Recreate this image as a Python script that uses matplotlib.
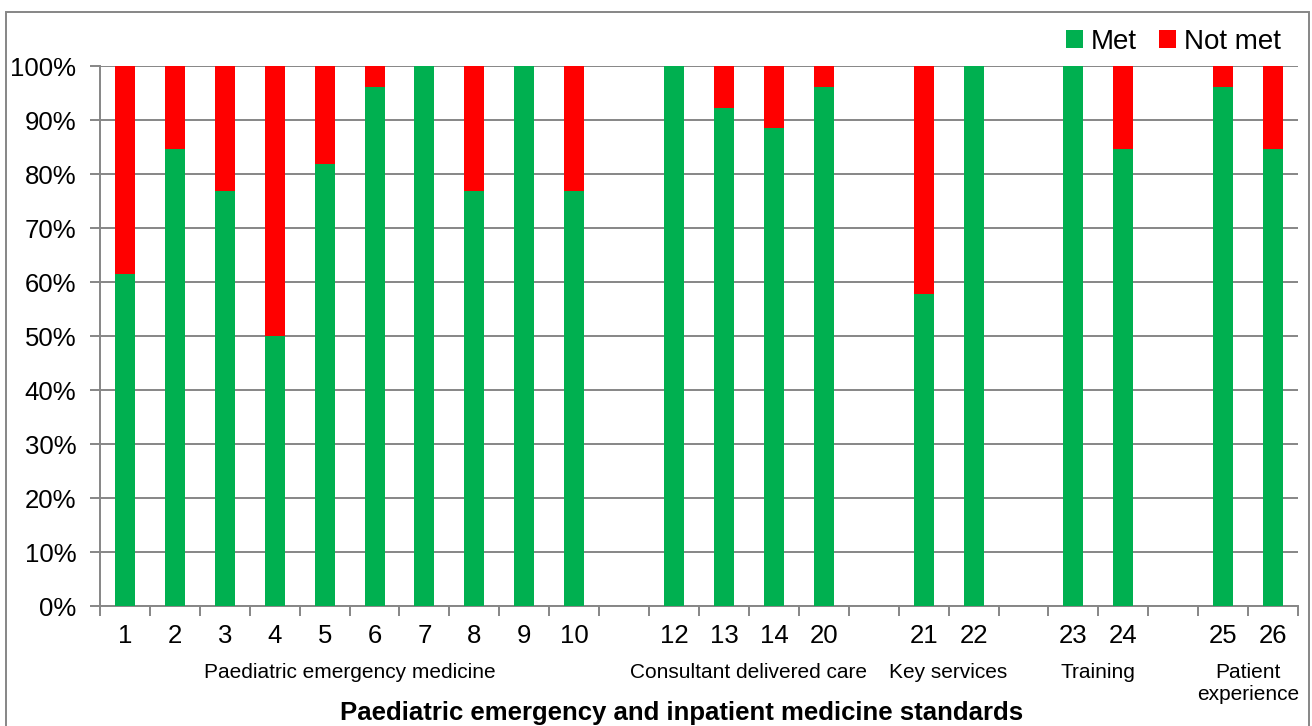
import matplotlib
matplotlib.use('Agg')
import matplotlib.pyplot as plt
from matplotlib.patches import Rectangle

plt.rcParams.update({
    'font.family': ['Liberation Sans', 'DejaVu Sans'],
})

GREEN = "#00B050"
RED = "#FF0000"
GRID = "#868686"

# Standards and share of units meeting each one (%)
standards = ["1", "2", "3", "4", "5", "6", "7", "8", "9", "10",
             "12", "13", "14", "20", "21", "22", "23", "24", "25", "26"]
slots = [0, 1, 2, 3, 4, 5, 6, 7, 8, 9, 11, 12, 13, 14, 16, 17, 19, 20, 22, 23]
met = [61.5, 84.6, 76.9, 50.0, 81.8, 96.2, 100, 76.9, 100, 76.9,
       100, 92.3, 88.5, 96.2, 57.7, 100, 100, 84.6, 96.2, 84.6]
not_met = [100 - m for m in met]

groups = ["Paediatric emergency medicine", "Consultant delivered care",
          "Key services", "Training", "Patient\nexperience"]
group_centres = [4.5, 12.5, 16.5, 19.5, 22.5]

fig = plt.figure(figsize=(13.12, 7.26), dpi=100)
ax = fig.add_axes([100 / 1312, 120 / 726, 1198 / 1312, 540 / 726])

ax.bar(slots, met, width=0.4, color=GREEN, label="Met", zorder=3)
ax.bar(slots, not_met, bottom=met, width=0.4, color=RED, label="Not met", zorder=3)

ax.set_xlim(-0.5, 23.5)
ax.set_ylim(0, 100)
ax.set_yticks(range(0, 101, 10))
ax.set_yticklabels([f"{v}%" for v in range(0, 101, 10)], fontsize=18.5)
ax.yaxis.grid(True, color=GRID, lw=1.4, zorder=0)

ax.set_xticks(slots)
ax.set_xticklabels(standards, fontsize=18.5)
ax.set_xticks([s - 0.5 for s in range(25)], minor=True)
ax.tick_params(axis='x', which='major', length=0, pad=13)
ax.tick_params(axis='x', which='minor', length=7, color=GRID, width=1.4)
ax.tick_params(axis='y', length=7, color=GRID, width=1.4, pad=10)

for side in ['top', 'right']:
    ax.spines[side].set_visible(False)
for side in ['left', 'bottom']:
    ax.spines[side].set_color(GRID)
    ax.spines[side].set_linewidth(1.4)

for name, cx in zip(groups, group_centres):
    ax.text(cx, -10.6, name, ha='center', va='top', fontsize=15,
            transform=ax.transData, linespacing=1.2)

ax.legend(loc='lower right', bbox_to_anchor=(1.0, 0.99), ncol=2, frameon=False,
          fontsize=20, handlelength=0.6, handleheight=0.6, handletextpad=0.3,
          columnspacing=0.8, borderaxespad=0.2)

fig.text(682 / 1312, 6 / 726, "Paediatric emergency and inpatient medicine standards",
         ha='center', va='baseline', fontsize=18.5, fontweight='bold')

# chart frame
fig.patches.append(Rectangle((6 / 1312, -0.1), 1303 / 1312, (726 - 12) / 726 + 0.1,
                             transform=fig.transFigure, fill=False,
                             edgecolor=GRID, lw=1.4))

fig.savefig("out.png", dpi=100)
